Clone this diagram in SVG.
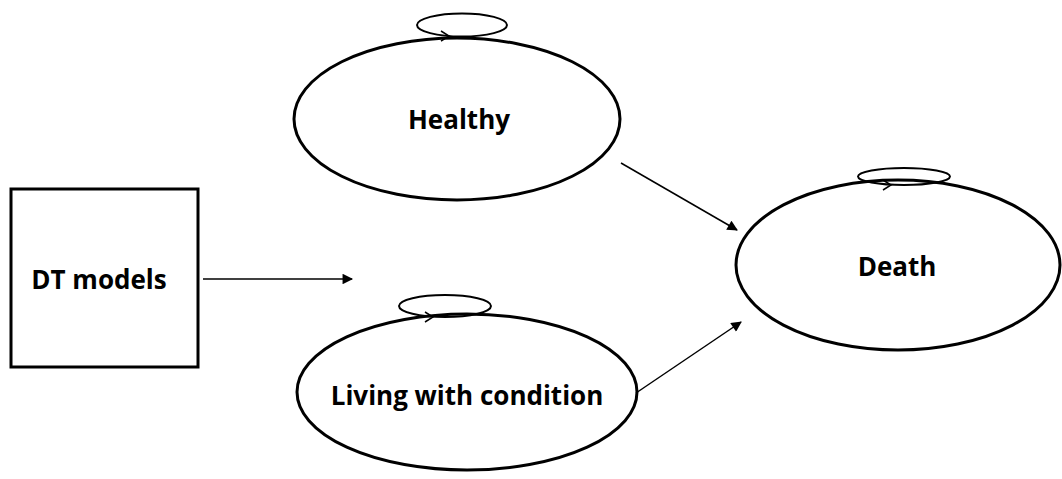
<svg xmlns="http://www.w3.org/2000/svg" width="1062" height="479" viewBox="0 0 1062 479">
<style>
.node{fill:#fff;stroke:#000;stroke-width:3}
.loop{fill:none;stroke:#000;stroke-width:2}
.lbl{font-family:"Open Sans","Liberation Sans",sans-serif;font-weight:bold;font-size:26px;fill:#000;text-anchor:middle;dominant-baseline:central}
.edge{stroke:#000;stroke-width:1.5;fill:none}
.chev{fill:none;stroke:#000;stroke-width:1.5}
</style>
<defs>
<marker id="arr" viewBox="0 0 10 10" refX="9" refY="5" markerWidth="8" markerHeight="7" orient="auto" markerUnits="strokeWidth">
<path d="M0,0 L10,5 L0,10 z" fill="#000"/>
</marker>
</defs>
<rect width="1062" height="479" fill="#fff"/>
<g id="dt">
<rect class="node" x="11" y="189" width="187" height="178"/>
<text class="lbl" x="99" y="279">DT models</text>
</g>
<g id="healthy">
<ellipse class="node" cx="457" cy="119" rx="163" ry="81"/>
<ellipse class="loop" cx="462" cy="25" rx="45" ry="11.5"/>
<path class="chev" d="M441,31 L449,36 L441,41"/>
<text class="lbl" x="459" y="119">Healthy</text>
</g>
<g id="living">
<ellipse class="node" cx="467" cy="392" rx="170" ry="78"/>
<ellipse class="loop" cx="445" cy="306" rx="46" ry="11"/>
<path class="chev" d="M425,312 L433,317 L425,322"/>
<text class="lbl" x="467" y="395">Living with condition</text>
</g>
<g id="death">
<ellipse class="node" cx="898" cy="265" rx="162" ry="85"/>
<ellipse class="loop" cx="904" cy="176.5" rx="46" ry="8.5"/>
<path class="chev" d="M883,180 L891,185 L883,190"/>
<text class="lbl" x="897" y="266">Death</text>
</g>
<g id="connectors">
<line class="edge" x1="203" y1="279" x2="352" y2="279" marker-end="url(#arr)"/>
<line class="edge" x1="621" y1="163" x2="737" y2="230" marker-end="url(#arr)"/>
<line class="edge" x1="636" y1="393" x2="741" y2="322" marker-end="url(#arr)"/>
</g>
</svg>
